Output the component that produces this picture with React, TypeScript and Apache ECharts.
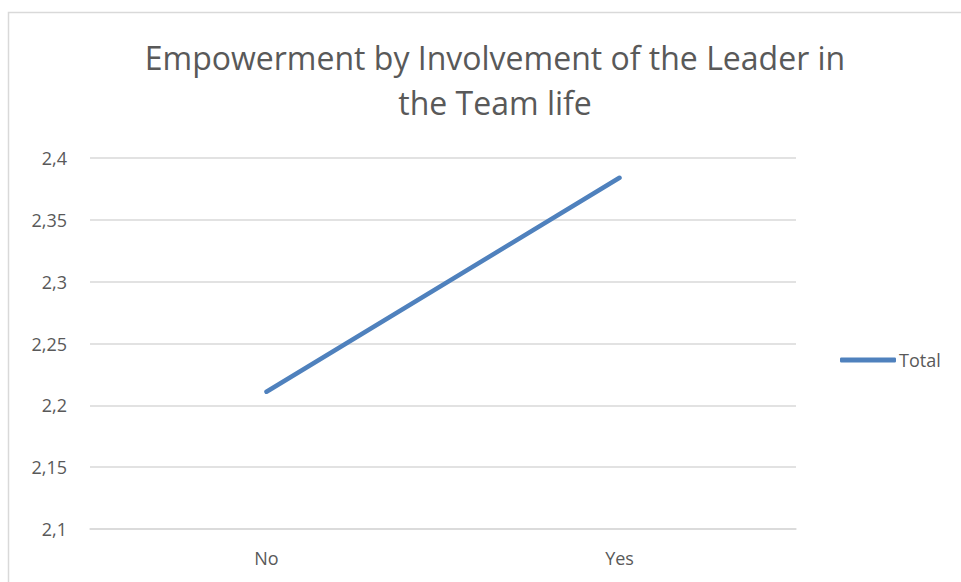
import React, { useEffect, useRef } from "react";
import * as echarts from "echarts";

const categories = ["No", "Yes"];
const totalValues = [2.211, 2.384];
const yTicks = [2.1, 2.15, 2.2, 2.25, 2.3, 2.35, 2.4];
const titleText = "Empowerment by Involvement of the Leader in\nthe Team life";
const seriesName = "Total";

export default function App() {
  const ref = useRef<HTMLDivElement>(null);
  useEffect(() => {
    if (!ref.current) return;
    const chart = echarts.init(ref.current, null, { renderer: "svg" });
    const font = "'Open Sans', 'Noto Sans', sans-serif";
    chart.setOption({
      animation: false,
      backgroundColor: "#ffffff",
      graphic: [
        {
          type: "rect",
          shape: { x: 8.5, y: 12.5, width: 1000, height: 600 },
          style: { fill: "none", stroke: "#d9d9d9", lineWidth: 1.5 },
          silent: true,
        },
      ],
      title: {
        text: titleText,
        left: 490,
        top: 30,
        textAlign: "center",
        textStyle: {
          fontFamily: font,
          fontSize: 32,
          fontWeight: "normal",
          lineHeight: 45,
          color: "#595959",
        },
      },
      legend: {
        data: [seriesName],
        left: 835,
        top: 346,
        icon: "roundRect",
        itemWidth: 56,
        itemHeight: 5,
        itemGap: 4,
        textStyle: { fontFamily: font, fontSize: 18, color: "#595959", padding: [0, 0, 0, -2] },
      },
      grid: { left: 90, right: 165, top: 158, bottom: 53, containLabel: false },
      xAxis: {
        type: "category",
        data: categories,
        boundaryGap: true,
        axisLine: { show: true, lineStyle: { color: "#d9d9d9", width: 1.5 } },
        axisTick: { show: false },
        axisLabel: { fontFamily: font, fontSize: 18, color: "#595959", margin: 20 },
      },
      yAxis: {
        type: "value",
        min: yTicks[0],
        max: yTicks[yTicks.length - 1],
        interval: 0.05,
        axisLine: { show: false },
        axisTick: { show: false },
        splitLine: { lineStyle: { color: "#d9d9d9", width: 1.5 } },
        axisLabel: {
          fontFamily: font,
          fontSize: 18,
          color: "#595959",
          margin: 23,
          formatter: (v: number) => String(parseFloat(v.toFixed(2))).replace(".", ","),
        },
      },
      series: [
        {
          name: seriesName,
          type: "line",
          data: totalValues,
          symbol: "none",
          lineStyle: { color: "#4f81bd", width: 4.5, cap: "round" },
          itemStyle: { color: "#4f81bd" },
        },
      ],
    });
    return () => chart.dispose();
  }, []);
  return (
    <div
      ref={ref}
      style={{ position: "fixed", left: 0, top: 0, width: 961, height: 582 }}
    />
  );
}
